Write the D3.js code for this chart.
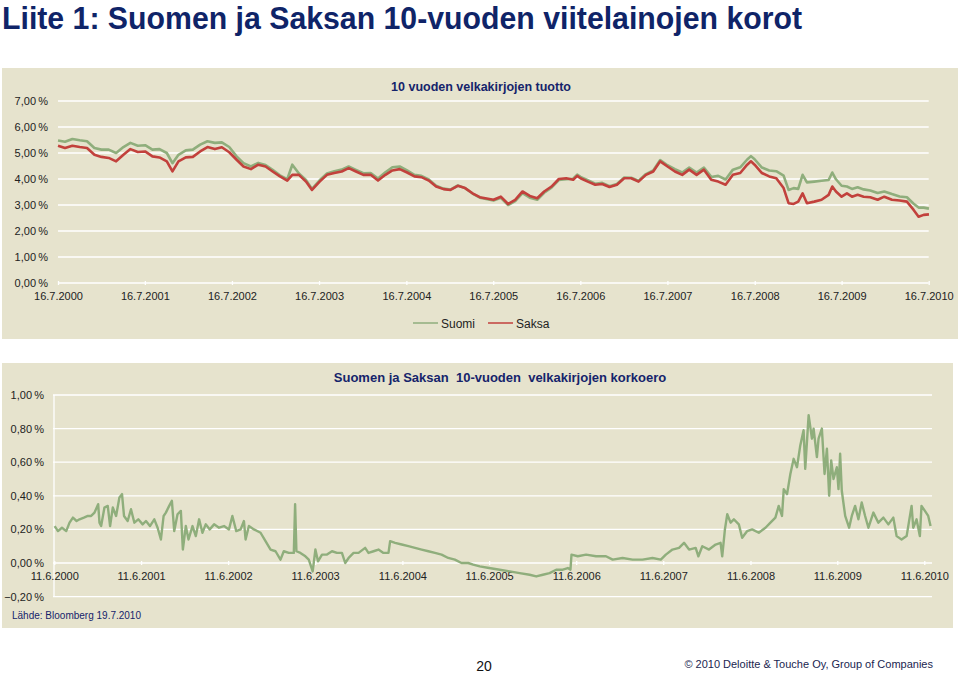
<!DOCTYPE html>
<html>
<head>
<meta charset="utf-8">
<script src="https://cdn.jsdelivr.net/npm/d3@7"></script>
<style>
  body { margin: 0; background: #fff; }
  svg { display: block; font-family: "Liberation Sans", Arial, sans-serif; }
  .tick text { fill: #222; font-size: 11px; }
</style>
</head>
<body>
<div id="chart"></div>
<script>
// --- data ---
var topDates = [2000.540,2000.620,2000.705,2000.789,2000.873,2000.958,2001.038,2001.122,2001.207,2001.291,2001.371,2001.456,2001.540,2001.624,2001.705,2001.789,2001.854,2001.923,2002.007,2002.088,2002.172,2002.256,2002.341,2002.421,2002.506,2002.590,2002.670,2002.755,2002.839,2002.923,2003.004,2003.088,2003.172,2003.230,2003.306,2003.387,2003.456,2003.544,2003.628,2003.712,2003.797,2003.877,2003.961,2004.046,2004.130,2004.214,2004.299,2004.379,2004.463,2004.548,2004.632,2004.712,2004.797,2004.881,2004.966,2005.046,2005.130,2005.214,2005.299,2005.383,2005.540,2005.624,2005.708,2005.789,2005.873,2005.957,2006.042,2006.122,2006.206,2006.290,2006.375,2006.455,2006.501,2006.539,2006.623,2006.708,2006.788,2006.872,2006.957,2007.041,2007.121,2007.205,2007.290,2007.374,2007.454,2007.538,2007.623,2007.707,2007.787,2007.872,2007.956,2008.040,2008.120,2008.205,2008.289,2008.373,2008.453,2008.496,2008.538,2008.622,2008.706,2008.787,2008.871,2008.928,2008.986,2009.039,2009.089,2009.139,2009.223,2009.307,2009.388,2009.430,2009.472,2009.537,2009.598,2009.656,2009.721,2009.790,2009.866,2009.951,2010.027,2010.115,2010.203,2010.287,2010.364,2010.421,2010.479,2010.540];

var suomi = [5.48,5.43,5.54,5.49,5.45,5.19,5.13,5.13,5.00,5.23,5.39,5.28,5.30,5.13,5.15,5.00,4.61,4.93,5.10,5.13,5.32,5.45,5.39,5.41,5.23,4.87,4.61,4.48,4.62,4.54,4.35,4.14,3.99,4.55,4.21,3.96,3.62,3.95,4.21,4.30,4.36,4.48,4.35,4.22,4.23,4.02,4.26,4.45,4.48,4.33,4.16,4.12,3.98,3.74,3.63,3.59,3.75,3.65,3.44,3.28,3.17,3.28,3.00,3.15,3.46,3.28,3.20,3.47,3.67,3.96,3.99,4.01,4.17,4.08,3.95,3.82,3.85,3.72,3.81,4.06,4.05,3.93,4.19,4.33,4.73,4.53,4.38,4.25,4.44,4.25,4.44,4.08,4.12,3.98,4.36,4.45,4.75,4.88,4.76,4.44,4.33,4.30,4.13,3.58,3.65,3.62,4.16,3.87,3.90,3.93,3.96,4.25,3.99,3.74,3.71,3.62,3.68,3.60,3.56,3.46,3.52,3.42,3.33,3.30,3.05,2.90,2.90,2.86];

var saksa = [5.28,5.19,5.28,5.23,5.19,4.93,4.85,4.81,4.68,4.93,5.15,5.04,5.06,4.87,4.83,4.68,4.29,4.68,4.83,4.85,5.06,5.23,5.15,5.22,5.03,4.74,4.48,4.38,4.55,4.48,4.29,4.10,3.94,4.16,4.16,3.90,3.58,3.90,4.16,4.23,4.29,4.42,4.29,4.16,4.16,3.94,4.16,4.33,4.38,4.25,4.10,4.07,3.94,3.71,3.61,3.58,3.74,3.65,3.45,3.30,3.20,3.32,3.04,3.20,3.52,3.35,3.26,3.52,3.71,4.00,4.03,3.97,4.12,4.03,3.90,3.78,3.81,3.69,3.78,4.03,4.03,3.90,4.16,4.29,4.68,4.48,4.29,4.16,4.36,4.16,4.36,3.97,3.90,3.78,4.16,4.23,4.55,4.68,4.55,4.23,4.10,4.03,3.65,3.07,3.04,3.13,3.45,3.07,3.13,3.20,3.39,3.71,3.52,3.32,3.45,3.32,3.39,3.32,3.30,3.20,3.32,3.20,3.17,3.13,2.81,2.55,2.62,2.64];

var spreadDates = [2000.448,2000.486,2000.532,2000.581,2000.619,2000.658,2000.700,2000.734,2000.784,2000.829,2000.867,2000.906,2000.948,2000.963,2000.982,2001.020,2001.058,2001.085,2001.116,2001.154,2001.192,2001.222,2001.245,2001.287,2001.325,2001.364,2001.409,2001.459,2001.497,2001.543,2001.593,2001.631,2001.669,2001.700,2001.726,2001.764,2001.795,2001.822,2001.860,2001.898,2001.921,2001.955,2001.986,2002.032,2002.070,2002.108,2002.146,2002.184,2002.230,2002.280,2002.337,2002.394,2002.451,2002.490,2002.535,2002.585,2002.623,2002.642,2002.680,2002.738,2002.814,2002.871,2002.929,2002.986,2003.043,2003.081,2003.138,2003.196,2003.211,2003.226,2003.272,2003.329,2003.368,2003.413,2003.444,2003.474,2003.520,2003.577,2003.635,2003.692,2003.749,2003.787,2003.826,2003.883,2003.940,2004.016,2004.054,2004.112,2004.169,2004.226,2004.284,2004.303,2004.360,2004.436,2004.513,2004.589,2004.665,2004.742,2004.818,2004.894,2004.971,2005.047,2005.123,2005.200,2005.257,2005.333,2005.440,2005.562,2005.677,2005.791,2005.906,2005.982,2006.058,2006.135,2006.211,2006.287,2006.345,2006.375,2006.387,2006.459,2006.555,2006.669,2006.783,2006.860,2006.974,2007.089,2007.203,2007.318,2007.413,2007.471,2007.547,2007.623,2007.680,2007.738,2007.814,2007.845,2007.890,2007.967,2008.043,2008.100,2008.119,2008.150,2008.177,2008.215,2008.253,2008.310,2008.348,2008.406,2008.463,2008.539,2008.616,2008.673,2008.730,2008.768,2008.806,2008.826,2008.864,2008.902,2008.940,2008.978,2009.016,2009.054,2009.073,2009.112,2009.150,2009.169,2009.207,2009.226,2009.264,2009.295,2009.322,2009.348,2009.371,2009.398,2009.436,2009.455,2009.474,2009.493,2009.532,2009.577,2009.608,2009.646,2009.684,2009.722,2009.761,2009.799,2009.856,2009.913,2009.971,2010.028,2010.085,2010.123,2010.180,2010.238,2010.295,2010.314,2010.352,2010.390,2010.409,2010.448,2010.486,2010.513];

var spread = [0.22,0.19,0.21,0.19,0.24,0.27,0.25,0.26,0.27,0.28,0.28,0.30,0.35,0.24,0.22,0.33,0.34,0.22,0.33,0.28,0.39,0.41,0.28,0.25,0.32,0.24,0.26,0.23,0.25,0.22,0.26,0.21,0.14,0.28,0.30,0.34,0.37,0.19,0.29,0.31,0.08,0.22,0.14,0.22,0.16,0.26,0.18,0.23,0.20,0.23,0.21,0.22,0.20,0.28,0.19,0.20,0.25,0.14,0.22,0.20,0.18,0.13,0.08,0.07,0.02,0.07,0.06,0.06,0.35,0.07,0.06,0.04,0.02,-0.05,0.08,0.01,0.05,0.05,0.07,0.06,0.06,0.00,0.03,0.06,0.06,0.09,0.06,0.07,0.08,0.06,0.06,0.13,0.12,0.11,0.10,0.09,0.08,0.07,0.06,0.05,0.03,0.02,0.00,0.00,-0.01,-0.02,-0.03,-0.04,-0.05,-0.06,-0.07,-0.08,-0.07,-0.06,-0.04,-0.04,-0.03,-0.04,0.05,0.04,0.05,0.04,0.04,0.02,0.03,0.02,0.02,0.03,0.02,0.05,0.08,0.09,0.12,0.08,0.09,0.04,0.10,0.08,0.11,0.12,0.04,0.20,0.29,0.24,0.26,0.23,0.15,0.19,0.20,0.18,0.21,0.24,0.27,0.34,0.28,0.44,0.41,0.53,0.62,0.57,0.70,0.79,0.56,0.88,0.74,0.80,0.63,0.74,0.80,0.53,0.68,0.40,0.61,0.50,0.57,0.44,0.65,0.43,0.28,0.21,0.28,0.34,0.26,0.36,0.28,0.21,0.30,0.24,0.27,0.23,0.27,0.16,0.14,0.16,0.34,0.21,0.26,0.16,0.34,0.31,0.28,0.22];

var topTickLabels = ["16.7.2000","16.7.2001","16.7.2002","16.7.2003","16.7.2004","16.7.2005","16.7.2006","16.7.2007","16.7.2008","16.7.2009","16.7.2010"];
var bottomTickLabels = ["11.6.2000","11.6.2001","11.6.2002","11.6.2003","11.6.2004","11.6.2005","11.6.2006","11.6.2007","11.6.2008","11.6.2009","11.6.2010"];
var topYTicks = [0, 1, 2, 3, 4, 5, 6, 7];
var bottomYTicks = [-0.2, 0, 0.2, 0.4, 0.6, 0.8, 1.0];
var seriesNames = ["Suomi", "Saksa"];

// --- page setup ---
var svgWidth = 960;
var svgHeight = 674;
var panelColor = "#e6e3cd";
var green = "#8fae7c";
var red = "#c2413c";
var navy = "#15246b";

var svg = d3.select("#chart")
    .append("svg")
    .attr("width", svgWidth)
    .attr("height", svgHeight);

// label "16.7.2000" -> decimal year
function labelToYear(s) {
    var p = s.split(".");
    var d = new Date(+p[2], +p[1] - 1, +p[0]);
    var start = new Date(+p[2], 0, 1);
    return +p[2] + (d - start) / 86400000 / 365;
}
var pct = function (v) { return d3.format(".2f")(v).replace(".", ",").replace("-0,00", "0,00") + "\u2009%"; };

// main title
svg.append("text")
    .attr("x", 2)
    .attr("y", 29)
    .attr("textLength", 800)
    .attr("lengthAdjust", "spacingAndGlyphs")
    .style("font-family", "'Liberation Sans Narrow', 'Arial Narrow', 'Liberation Sans', sans-serif")
    .style("font-weight", "bold")
    .style("font-size", "31px")
    .style("fill", "#0f2468")
    .text("Liite 1: Suomen ja Saksan 10-vuoden viitelainojen korot");

// ================= top panel =================
svg.append("rect")
    .attr("x", 2).attr("y", 68)
    .attr("width", 956).attr("height", 271)
    .attr("fill", panelColor);

var topX = d3.scaleLinear()
    .domain([labelToYear(topTickLabels[0]), labelToYear(topTickLabels[10])])
    .range([58, 928.7]);
var topY = d3.scaleLinear()
    .domain([0, 7])
    .range([283, 101]);

var topGroup = svg.append("g");

// grid lines
topGroup.selectAll(".grid")
    .data(topYTicks)
    .enter()
    .append("line")
    .attr("x1", 58).attr("x2", 928.7)
    .attr("y1", d => topY(d)).attr("y2", d => topY(d))
    .attr("stroke", "#fff")
    .attr("stroke-width", 1.3);

var topLeftAxis = d3.axisLeft(topY)
    .tickValues(topYTicks)
    .tickFormat(pct)
    .tickSize(0)
    .tickPadding(10);
topGroup.append("g")
    .attr("transform", "translate(58,0)")
    .call(topLeftAxis)
    .call(g => g.select(".domain").remove());

var topBottomAxis = d3.axisBottom(topX)
    .tickValues(topTickLabels.map(labelToYear))
    .tickFormat((d, i) => topTickLabels[i])
    .tickSize(4)
    .tickPadding(7);
topGroup.append("g")
    .attr("transform", "translate(0," + (topY(0) - 2) + ")")
    .call(topBottomAxis)
    .call(g => g.select(".domain").remove())
    .call(g => g.selectAll(".tick line").attr("stroke", "#fff").attr("stroke-width", 1.3));

var topLine = function (values) {
    return d3.line()
        .x((d, i) => topX(topDates[i]))
        .y(d => topY(d))(values);
};

topGroup.append("path")
    .attr("d", topLine(suomi))
    .attr("fill", "none")
    .attr("stroke", green)
    .attr("stroke-width", 2.6)
    .attr("stroke-linejoin", "round");

topGroup.append("path")
    .attr("d", topLine(saksa))
    .attr("fill", "none")
    .attr("stroke", red)
    .attr("stroke-width", 2.6)
    .attr("stroke-linejoin", "round");

topGroup.append("text")
    .attr("x", 481)
    .attr("y", 91)
    .attr("text-anchor", "middle")
    .style("font-weight", "bold")
    .style("font-size", "12.5px")
    .style("fill", navy)
    .text("10 vuoden velkakirjojen tuotto");

// legend
var legend = topGroup.selectAll(".legend")
    .data(seriesNames)
    .enter()
    .append("g")
    .attr("transform", (d, i) => "translate(" + (413 + i * 75) + ",323)");
legend.append("line")
    .attr("x1", 0).attr("x2", 25)
    .attr("stroke", (d, i) => i === 0 ? green : red)
    .attr("stroke-width", 1.5);
legend.append("text")
    .attr("x", 28)
    .attr("y", 4.5)
    .style("font-size", "12px")
    .style("fill", "#222")
    .text(d => d);

// ================= bottom panel =================
svg.append("rect")
    .attr("x", 2).attr("y", 363)
    .attr("width", 951).attr("height", 265)
    .attr("fill", panelColor);

var botX = d3.scaleLinear()
    .domain([labelToYear(bottomTickLabels[0]), labelToYear(bottomTickLabels[10])])
    .range([54.3, 924.3]);
var botY = d3.scaleLinear()
    .domain([0, 1])
    .range([563, 395]);

var botGroup = svg.append("g");

botGroup.selectAll(".grid")
    .data(bottomYTicks)
    .enter()
    .append("line")
    .attr("x1", 53).attr("x2", 932)
    .attr("y1", d => botY(d)).attr("y2", d => botY(d))
    .attr("stroke", "#fff")
    .attr("stroke-width", 1.3);

botGroup.append("line")
    .attr("x1", 54).attr("x2", 54)
    .attr("y1", botY(1)).attr("y2", botY(-0.2))
    .attr("stroke", "#fff")
    .attr("stroke-width", 1.3);

var botLeftAxis = d3.axisLeft(botY)
    .tickValues(bottomYTicks)
    .tickFormat(pct)
    .tickSize(0)
    .tickPadding(10);
botGroup.append("g")
    .attr("transform", "translate(54,0)")
    .call(botLeftAxis)
    .call(g => g.select(".domain").remove());

var botBottomAxis = d3.axisBottom(botX)
    .tickValues(bottomTickLabels.map(labelToYear))
    .tickFormat((d, i) => bottomTickLabels[i])
    .tickSize(4)
    .tickPadding(7);
botGroup.append("g")
    .attr("transform", "translate(0," + (botY(0) - 2) + ")")
    .call(botBottomAxis)
    .call(g => g.select(".domain").remove())
    .call(g => g.selectAll(".tick line").attr("stroke", "#fff").attr("stroke-width", 1.3));

botGroup.append("path")
    .attr("d", d3.line()
        .x((d, i) => botX(spreadDates[i]))
        .y(d => botY(d))(spread))
    .attr("fill", "none")
    .attr("stroke", green)
    .attr("stroke-width", 2.4)
    .attr("stroke-linejoin", "round");

botGroup.append("text")
    .attr("x", 500)
    .attr("y", 382)
    .attr("text-anchor", "middle")
    .attr("xml:space", "preserve")
    .style("white-space", "pre")
    .style("font-weight", "bold")
    .style("font-size", "13px")
    .style("fill", navy)
    .text("Suomen ja Saksan  10-vuoden  velkakirjojen korkoero");

botGroup.append("text")
    .attr("x", 12)
    .attr("y", 619)
    .style("font-size", "10px")
    .style("fill", navy)
    .text("Lähde: Bloomberg 19.7.2010");

// footer
svg.append("text")
    .attr("x", 484)
    .attr("y", 671)
    .attr("text-anchor", "middle")
    .style("font-size", "14px")
    .style("fill", "#111")
    .text("20");

svg.append("text")
    .attr("x", 933)
    .attr("y", 668)
    .attr("text-anchor", "end")
    .style("font-size", "11px")
    .style("fill", "#1a2550")
    .text("\u00a9 2010 Deloitte & Touche Oy, Group of Companies");
</script>
</body>
</html>
